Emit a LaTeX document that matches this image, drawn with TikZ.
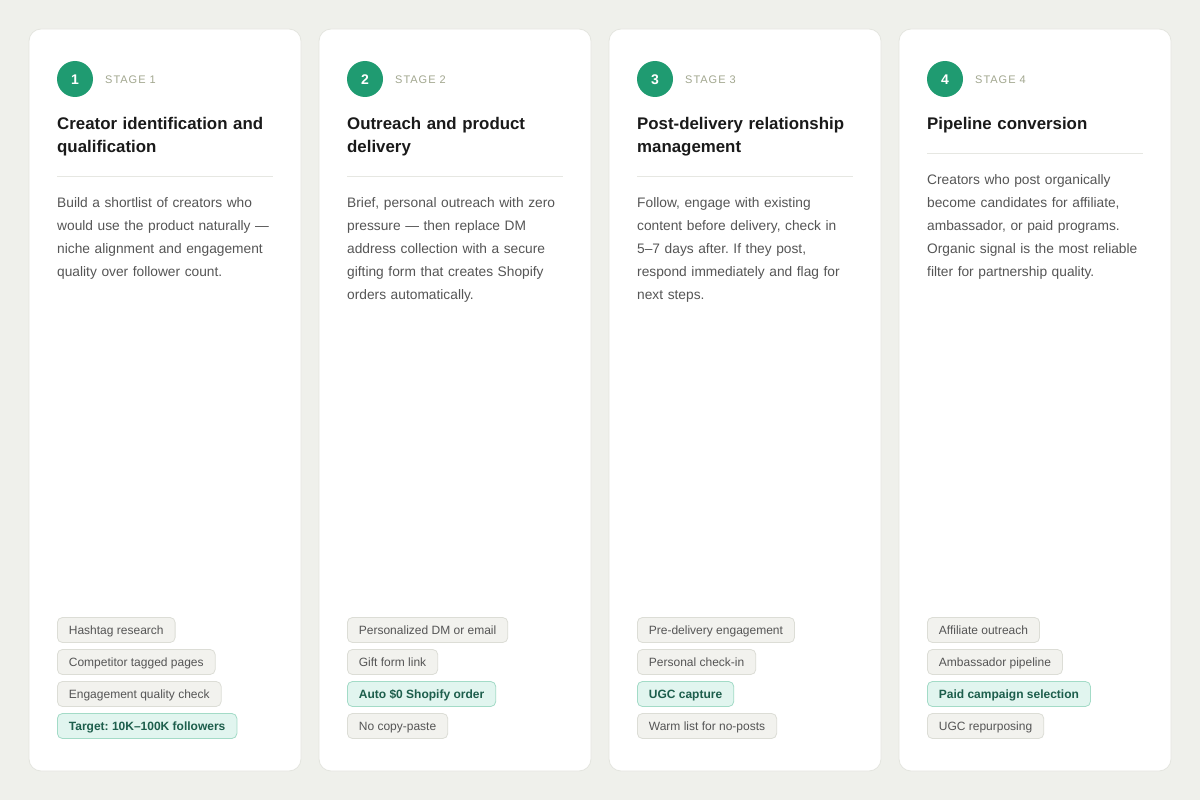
\documentclass[tikz,border=0pt]{standalone}
\usepackage{fontspec}
\setmainfont{Liberation Sans}
\newfontfamily\stagefont[LetterSpace=9]{Liberation Sans}
\frenchspacing
\definecolor{bgc}{HTML}{EFF0EB}
\definecolor{cardline}{HTML}{E4E5DF}
\definecolor{accent}{HTML}{1F9B71}
\definecolor{titlec}{HTML}{1A1A1A}
\definecolor{bodyc}{HTML}{555555}
\definecolor{stagec}{HTML}{A2A78F}
\definecolor{divc}{HTML}{E6E7E2}
\definecolor{tagfill}{HTML}{F2F2EE}
\definecolor{tagline}{HTML}{DCDDD6}
\definecolor{tagtext}{HTML}{555555}
\definecolor{hotfill}{HTML}{E1F5EF}
\definecolor{hotline}{HTML}{A3DBC7}
\definecolor{hottext}{HTML}{1D5E4C}
\tikzset{
  cardbox/.style={draw=cardline, line width=0.8pt, fill=white, rounded corners=12pt},
  numcirc/.style={circle, fill=accent, minimum size=36pt, inner sep=0pt, text height=11pt, text depth=0pt, text=white, font=\fontsize{14}{16}\selectfont\bfseries},
  stagelbl/.style={anchor=west, inner sep=0pt, text=stagec, font=\fontsize{11}{13}\stagefont},
  titletxt/.style={anchor=base west, inner sep=0pt, text width=240pt, align=left, text=titlec, font=\fontsize{16.85}{23}\selectfont\bfseries\frenchspacing},
  bodytxt/.style={anchor=base west, inner sep=0pt, text width=240pt, align=left, text=bodyc, font=\fontsize{13.75}{23}\selectfont\frenchspacing},
  divline/.style={draw=divc, line width=0.8pt},
  tag/.style={anchor=west, draw=tagline, fill=tagfill, line width=0.8pt, rounded corners=5pt, minimum height=25pt, inner xsep=11.5pt, inner ysep=0pt, text height=9.5pt, text depth=1pt, text=tagtext, font=\fontsize{12}{14}\selectfont\frenchspacing},
  hottag/.style={tag, draw=hotline, fill=hotfill, text=hottext, font=\fontsize{12}{14}\selectfont\bfseries\frenchspacing},
}
\begin{document}
\begin{tikzpicture}[x=1pt,y=-1pt]
\fill[bgc] (0,0) rectangle (1200,800);
\useasboundingbox (0,0) rectangle (1200,800);
% cards
\foreach \cx/\i in {29/1,319/2,609/3,899/4}{
  \draw[cardbox] (\cx,29) rectangle ++(272,742);
  \node[numcirc] (num\i) at (\cx+46,79) {\i};
  \node[stagelbl] (stage\i) at (\cx+76,79.8) {STAGE \i};
}
% card 1
\node[titletxt] (title1) at (57,129) {Creator identification and\\qualification};
\coordinate (d1a) at (57,176); \coordinate (d1b) at (273,176);
\draw[divline] (d1a) -- (d1b);
\node[bodytxt] (body1) at (57,207) {Build a shortlist of creators who\\would use the product naturally —\\niche alignment and engagement\\quality over follower count.};
\node[tag] (tag1a) at (57,630) {Hashtag research};
\node[tag] (tag1b) at (57,662) {Competitor tagged pages};
\node[tag] (tag1c) at (57,694) {Engagement quality check};
\node[hottag] (tag1d) at (57,726) {Target: 10K–100K followers};
% card 2
\node[titletxt] (title2) at (347,129) {Outreach and product\\delivery};
\coordinate (d2a) at (347,176); \coordinate (d2b) at (563,176);
\draw[divline] (d2a) -- (d2b);
\node[bodytxt] (body2) at (347,207) {Brief, personal outreach with zero\\pressure — then replace DM\\address collection with a secure\\gifting form that creates Shopify\\orders automatically.};
\node[tag] (tag2a) at (347,630) {Personalized DM or email};
\node[tag] (tag2b) at (347,662) {Gift form link};
\node[hottag] (tag2c) at (347,694) {Auto \$0 Shopify order};
\node[tag] (tag2d) at (347,726) {No copy-paste};
% card 3
\node[titletxt] (title3) at (637,129) {Post-delivery relationship\\management};
\coordinate (d3a) at (637,176); \coordinate (d3b) at (853,176);
\draw[divline] (d3a) -- (d3b);
\node[bodytxt] (body3) at (637,207) {Follow, engage with existing\\content before delivery, check in\\5–7 days after. If they post,\\respond immediately and flag for\\next steps.};
\node[tag] (tag3a) at (637,630) {Pre-delivery engagement};
\node[tag] (tag3b) at (637,662) {Personal check-in};
\node[hottag] (tag3c) at (637,694) {UGC capture};
\node[tag] (tag3d) at (637,726) {Warm list for no-posts};
% card 4
\node[titletxt] (title4) at (927,129) {Pipeline conversion};
\coordinate (d4a) at (927,153); \coordinate (d4b) at (1143,153);
\draw[divline] (d4a) -- (d4b);
\node[bodytxt] (body4) at (927,184) {Creators who post organically\\become candidates for affiliate,\\ambassador, or paid programs.\\Organic signal is the most reliable\\filter for partnership quality.};
\node[tag] (tag4a) at (927,630) {Affiliate outreach};
\node[tag] (tag4b) at (927,662) {Ambassador pipeline};
\node[hottag] (tag4c) at (927,694) {Paid campaign selection};
\node[tag] (tag4d) at (927,726) {UGC repurposing};
\end{tikzpicture}
\end{document}
